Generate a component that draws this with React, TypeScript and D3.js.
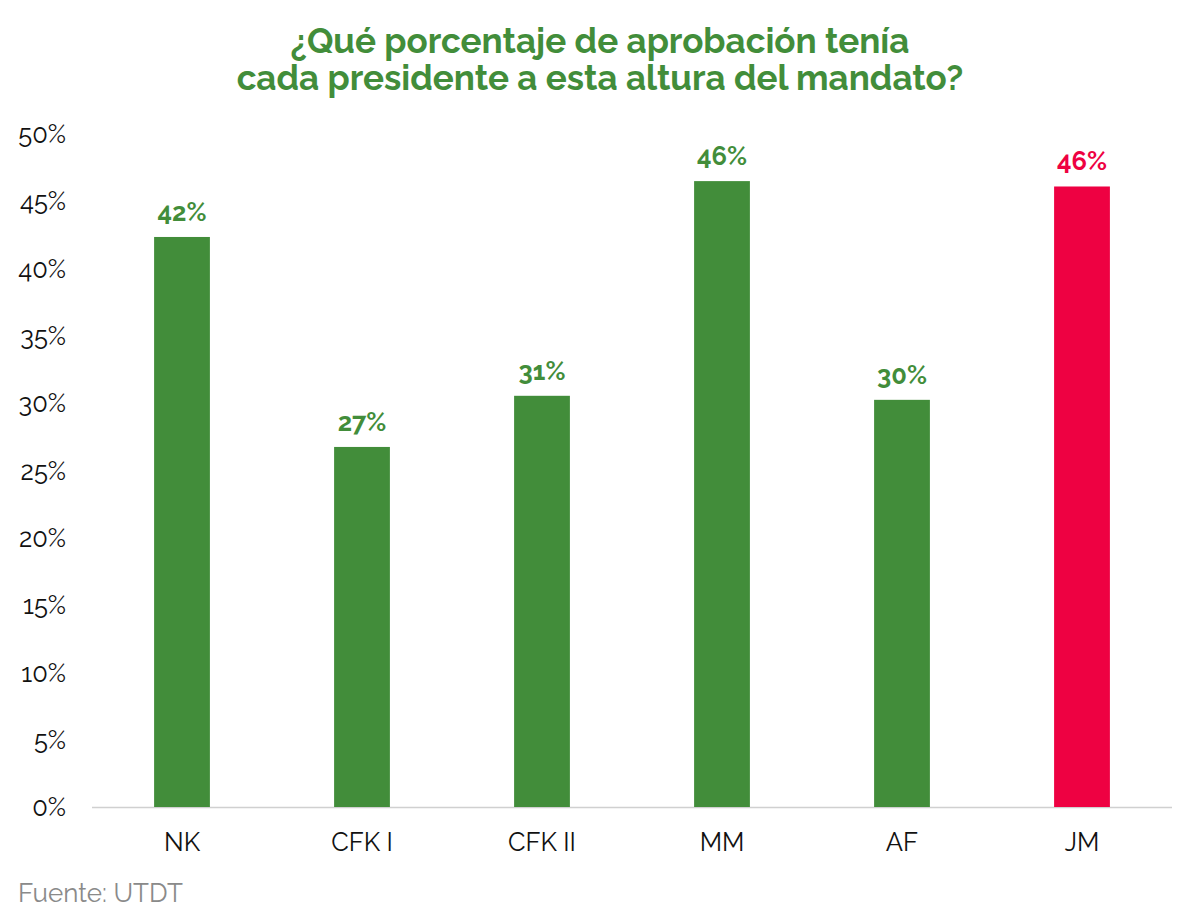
import React from "react";
import * as d3 from "d3";

const categories = ["NK", "CFK I", "CFK II", "MM", "AF", "JM"];
const values = [42.35, 26.75, 30.55, 46.5, 30.25, 46.1];
const valueLabels = ["42%", "27%", "31%", "46%", "30%", "46%"];
const highlight = ["JM"];
const yTicks = [0, 5, 10, 15, 20, 25, 30, 35, 40, 45, 50];
const titleLines = ["¿Qué porcentaje de aprobación tenía", "cada presidente a esta altura del mandato?"];
const source = "Fuente: UTDT";

const GREEN = "#428D3A";
const RED = "#EE0142";
const FONT = "Raleway, Lato, 'Open Sans', sans-serif";

export default function App() {
  const W = 1200, H = 918;
  const x = d3.scaleBand<string>().domain(categories).range([92, 1172]).paddingInner(0.69).paddingOuter(0.345);
  const y = d3.scaleLinear().domain([0, 50]).range([807, 134]);
  return (
    <svg width={W} height={H} style={{ position: "absolute", left: 0, top: 0, background: "#fff" }} fontFamily={FONT}>
      <rect width={W} height={H} fill="#fff" />
      {titleLines.map((t, i) => (
        <text key={i} x={600} y={53 + i * 37} textAnchor="middle" fontSize={35} fontWeight={700} fill={GREEN}>{t}</text>
      ))}
      {yTicks.map((t) => (
        <text key={t} x={66} y={y(t)} dy="0.36em" textAnchor="end" fontSize={25.5} fontWeight={400} fill="#111">{t}%</text>
      ))}
      <line x1={92} x2={1172} y1={y(0) + 0.5} y2={y(0) + 0.5} stroke="#d0d0d0" strokeWidth={1.5} />
      {categories.map((c, i) => {
        const col = highlight.includes(c) ? RED : GREEN;
        const bx = x(c)!;
        return (
          <g key={c}>
            <rect x={bx} y={y(values[i])} width={x.bandwidth()} height={y(0) - y(values[i])} fill={col} />
            <text x={bx + x.bandwidth() / 2} y={y(values[i]) - 16} textAnchor="middle" fontSize={25.5} fontWeight={700} fill={col}>{valueLabels[i]}</text>
            <text x={bx + x.bandwidth() / 2} y={851} textAnchor="middle" fontSize={25.5} fontWeight={400} fill="#111">{c}</text>
          </g>
        );
      })}
      <text x={18} y={902} fontSize={26} fontWeight={400} fill="#8a8a8a">{source}</text>
    </svg>
  );
}
